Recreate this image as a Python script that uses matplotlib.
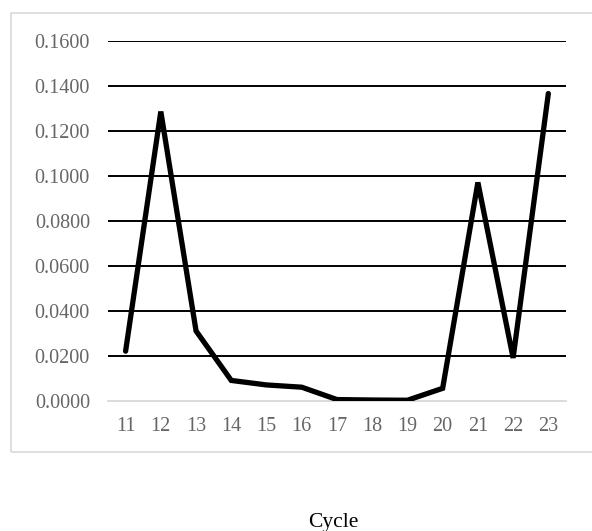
import matplotlib.pyplot as plt
from matplotlib.patches import Rectangle

plt.rcParams['font.family'] = ['Liberation Serif', 'DejaVu Serif']

cycles = [11, 12, 13, 14, 15, 16, 17, 18, 19, 20, 21, 22, 23]
values = [0.0220, 0.1285, 0.0310, 0.0090, 0.0070, 0.0060, 0.0005,
          0.0003, 0.0002, 0.0055, 0.0970, 0.0190, 0.1365]
yticks = [0.00, 0.02, 0.04, 0.06, 0.08, 0.10, 0.12, 0.14, 0.16]

fig = plt.figure(figsize=(5.92, 5.31), dpi=100)

# light grey frame around the chart area (runs off the right edge)
fig.patches.append(Rectangle((0.0186, 0.1493), 1.0, 0.827, transform=fig.transFigure,
                             fill=False, edgecolor='#d9d9d9', linewidth=1.2))

ax = fig.add_axes([0.1824, 0.2454, 0.7736, 0.678])
ax.plot(cycles, values, color='black', linewidth=3.8,
        solid_capstyle='round', solid_joinstyle='miter', zorder=3)

ax.set_xlim(10.5, 23.5)
ax.set_ylim(0, 0.16)
ax.set_xticks(cycles)
ax.set_xticklabels([str(c) for c in cycles])
ax.set_yticks(yticks)
ax.set_yticklabels(['%.4f' % v for v in yticks])

for v in yticks[1:]:
    ax.axhline(v, color='black', linewidth=1.4, zorder=1)

for s in ['top', 'right', 'left']:
    ax.spines[s].set_visible(False)
ax.spines['bottom'].set_color('#d9d9d9')
ax.spines['bottom'].set_linewidth(1.3)

ax.tick_params(axis='both', length=0, labelsize=14.5, labelcolor='#666666')
ax.tick_params(axis='y', pad=13)
ax.tick_params(axis='x', pad=12)

fig.text(333 / 592, 1 - 522 / 531, 'Cycle', ha='center', va='center',
         fontsize=15.5, color='black')

fig.savefig('out.png', dpi=100)
